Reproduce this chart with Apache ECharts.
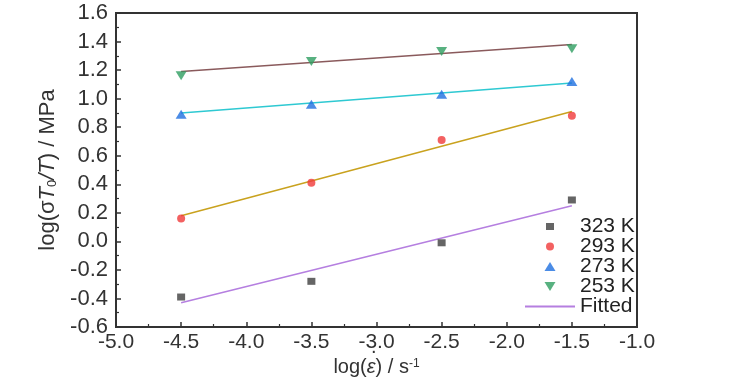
<!DOCTYPE html>
<html><head><meta charset="utf-8">
<script src="https://cdn.jsdelivr.net/npm/echarts@6/dist/echarts.min.js"></script>
<style>html,body{margin:0;padding:0;background:#fff}#c{width:729px;height:390px}</style>
</head><body><div id="c"></div>
<script>
const xs = [-4.5, -3.5, -2.5, -1.5];
const s323 = [-0.39, -0.28, -0.01, 0.29];
const s293 = [0.16, 0.41, 0.71, 0.88];
const s273 = [0.89, 0.96, 1.03, 1.12];
const s253 = [1.16, 1.26, 1.33, 1.35];
const fitX = [-4.5, -1.5];
const fit323 = [-0.43, 0.25];
const fit293 = [0.18, 0.91];
const fit273 = [0.90, 1.11];
const fit253 = [1.19, 1.38];
const names = ['323 K', '293 K', '273 K', '253 K', 'Fitted'];

const FF = "'Liberation Sans',Arial,sans-serif";
const pair = (x, y) => x.map((v, i) => [v, y[i]]);
const DOWN = 'path://M0,0 L10,0 L5,8 Z';
const UP = 'path://M5,0 L10,8 L0,8 Z';

const chart = echarts.init(document.getElementById('c'));
const axisCommon = {
  axisLine: {show: true, onZero: false, lineStyle: {color: '#333', width: 2}},
  axisTick: {show: true, inside: true, length: 5, lineStyle: {color: '#333', width: 1.5}},
  minorTick: {show: true, splitNumber: 2, length: 3, lineStyle: {color: '#333', width: 1.2}},
  splitLine: {show: false}
};
const legText = {fontSize: 21, fontFamily: FF, color: '#222', lineHeight: 20};
const markerLegend = (name, i, w, h) => ({
  orient: 'vertical', left: 550 - w / 2, top: 216 + i * 20, padding: 0,
  itemWidth: w, itemHeight: h, data: [name], selectedMode: false,
  textStyle: Object.assign({}, legText, {padding: [0, 0, 0, 580 - (550 + w / 2) - 5]})
});
chart.setOption({
  animation: false,
  grid: {left: 116, right: 92, top: 13, bottom: 63, show: true, borderColor: '#333', borderWidth: 2, backgroundColor: 'transparent'},
  xAxis: Object.assign({
    type: 'value', min: -5, max: -1, interval: 0.5,
    axisLabel: {color: '#333', fontSize: 21, fontFamily: FF, margin: 5, formatter: v => v.toFixed(1)},
    name: '{n|log(}{e|ε}{n|) / s}{sup|-1}', nameLocation: 'middle', nameGap: 30,
    nameTextStyle: {rich: {
      n: {fontSize: 20, fontFamily: FF, color: '#333'},
      e: {fontSize: 20, fontFamily: FF, fontStyle: 'italic', color: '#333'},
      sup: {fontSize: 12, fontFamily: FF, color: '#333', verticalAlign: 'top', lineHeight: 12, padding: [0,0,10,0]}
    }}
  }, axisCommon),
  yAxis: Object.assign({
    type: 'value', min: -0.6, max: 1.6, interval: 0.2,
    axisLabel: {color: '#333', fontSize: 22, fontFamily: FF, margin: 8, formatter: v => v.toFixed(1)},
    name: '{n|log(σ}{i|T}{sub|0}{i|/T}{n|) / MPa}', nameLocation: 'middle', nameGap: 56,
    nameTextStyle: {rich: {
      n: {fontSize: 22, fontFamily: FF, color: '#333'},
      i: {fontSize: 22, fontFamily: FF, fontStyle: 'italic', color: '#333'},
      sub: {fontSize: 13, fontFamily: FF, color: '#333', verticalAlign: 'bottom', lineHeight: 12, padding: [10,0,0,0]}
    }}
  }, axisCommon),
  legend: [
    markerLegend(names[0], 0, 8, 7),
    markerLegend(names[1], 1, 8, 8),
    markerLegend(names[2], 2, 11, 9),
    markerLegend(names[3], 3, 11, 9),
    {orient: 'vertical', left: 525, top: 296, padding: 0, itemWidth: 50, itemHeight: 2, selectedMode: false,
     data: [{name: names[4], icon: 'rect'}], textStyle: legText}
  ],
  graphic: [{type: 'text', left: 371, top: 337, style: {text: '.', fontSize: 20, fontFamily: FF, fill: '#333'}}],
  series: [
    {name: 'Fitted', type: 'line', data: pair(fitX, fit323), showSymbol: false, symbol: 'none', lineStyle: {color: '#b57fe0', width: 1.5}, itemStyle: {color: '#b57fe0'}, z: 1},
    {name: 'fit293', type: 'line', data: pair(fitX, fit293), showSymbol: false, symbol: 'none', lineStyle: {color: '#c9a21e', width: 1.5}, z: 1},
    {name: 'fit273', type: 'line', data: pair(fitX, fit273), showSymbol: false, symbol: 'none', lineStyle: {color: '#2ec9d2', width: 1.5}, z: 1},
    {name: 'fit253', type: 'line', data: pair(fitX, fit253), showSymbol: false, symbol: 'none', lineStyle: {color: '#8a5a5c', width: 1.5}, z: 1},
    {name: '323 K', type: 'scatter', data: pair(xs, s323), symbol: 'rect', symbolSize: [8, 7], itemStyle: {color: '#3e3e3e'}, z: 3},
    {name: '293 K', type: 'scatter', data: pair(xs, s293), symbol: 'circle', symbolSize: 8, itemStyle: {color: '#f03a3a'}, z: 3},
    {name: '273 K', type: 'scatter', data: pair(xs, s273), symbol: UP, symbolSize: [11, 9], itemStyle: {color: '#1e6fe0'}, z: 3},
    {name: '253 K', type: 'scatter', data: pair(xs, s253), symbol: DOWN, symbolSize: [11, 9], itemStyle: {color: '#2e9e60'}, z: 3}
  ]
});
</script></body></html>
